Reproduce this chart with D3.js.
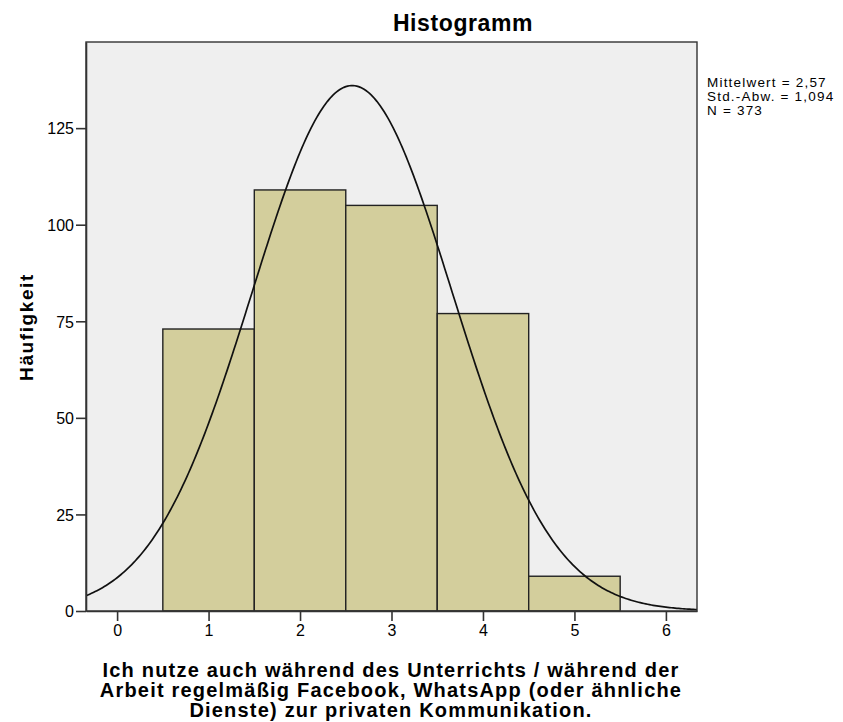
<!DOCTYPE html>
<html>
<head>
<meta charset="utf-8">
<script src="https://cdn.jsdelivr.net/npm/d3@7"></script>
<style>
  body { margin: 0; background: #fff; }
  svg text { font-family: Arial, "Liberation Sans", sans-serif; fill: #000; }
</style>
</head>
<body>
<div class="chartContainer"></div>
<script>
const categories = [1, 2, 3, 4, 5];
const counts = [73, 109, 105, 77, 9];
const xTicks = [0, 1, 2, 3, 4, 5, 6];
const yTicks = [0, 25, 50, 75, 100, 125];
const statsLines = ["Mittelwert = 2,57", "Std.-Abw. = 1,094", "N = 373"];
const mean = 2.57;
const sd = 1.094;
const n = 373;
const xTitle = [
  "Ich nutze auch während des Unterrichts / während der",
  "Arbeit regelmäßig Facebook, WhatsApp (oder ähnliche",
  "Dienste) zur privaten Kommunikation."
];

const w = 843;
const h = 722;
const plotL = 86, plotR = 697, plotT = 42, plotB = 611;

const svg = d3.select(".chartContainer").append("svg")
  .attr("width", w).attr("height", h);

const xScale = d3.scaleLinear().domain([-0.34, 6.34]).range([plotL, plotR]);
const yScale = d3.scaleLinear().domain([0, 147.3]).range([plotB, plotT]);

svg.append("rect")
  .attr("x", plotL).attr("y", plotT)
  .attr("width", plotR - plotL).attr("height", plotB - plotT)
  .attr("fill", "#efefef");

svg.append("defs").append("clipPath").attr("id", "plot")
  .append("rect").attr("x", plotL).attr("y", plotT)
  .attr("width", plotR - plotL).attr("height", plotB - plotT);

svg.selectAll("rect.bar")
  .data(categories)
  .enter()
  .append("rect")
  .attr("class", "bar")
  .attr("x", (d) => xScale(d - 0.5))
  .attr("y", (d, i) => yScale(counts[i]))
  .attr("width", (d) => xScale(d + 0.5) - xScale(d - 0.5))
  .attr("height", (d, i) => plotB - yScale(counts[i]))
  .attr("fill", "#d3ce9c")
  .attr("stroke", "#222")
  .attr("stroke-width", 1.4);

// normal curve from the stated mean / sd / N
const pts = d3.range(-0.34, 6.345, 0.02).map((x) => {
  const z = (x - mean) / sd;
  return [x, (n / (sd * Math.sqrt(2 * Math.PI))) * Math.exp(-0.5 * z * z)];
});
svg.append("path")
  .datum(pts)
  .attr("clip-path", "url(#plot)")
  .attr("fill", "none")
  .attr("stroke", "#111")
  .attr("stroke-width", 1.7)
  .attr("d", d3.line().x((d) => xScale(d[0])).y((d) => yScale(d[1])));

svg.append("rect")
  .attr("x", plotL).attr("y", plotT)
  .attr("width", plotR - plotL).attr("height", plotB - plotT)
  .attr("fill", "none").attr("stroke", "#333").attr("stroke-width", 1.4);

const xAxis = d3.axisBottom(xScale).tickValues(xTicks).tickFormat(d3.format("d"))
  .tickSize(10).tickSizeOuter(0).tickPadding(4);
const yAxis = d3.axisLeft(yScale).tickValues(yTicks).tickFormat(d3.format("d"))
  .tickSize(10).tickSizeOuter(0).tickPadding(2);

const gx = svg.append("g")
  .attr("id", "x-axis")
  .attr("transform", "translate(0," + plotB + ")")
  .call(xAxis);
const gy = svg.append("g")
  .attr("id", "y-axis")
  .attr("transform", "translate(" + plotL + ",0)")
  .call(yAxis);
[gx, gy].forEach((g) => {
  g.select(".domain").attr("stroke", "#333").attr("stroke-width", 1.6);
  g.selectAll(".tick line").attr("stroke", "#333").attr("stroke-width", 1.6);
  g.selectAll(".tick text").attr("font-size", 16).attr("fill", "#222")
    .style("font-family", "Arial, 'Liberation Sans', sans-serif");
});
gy.selectAll(".tick text").attr("dy", "0.36em");

svg.append("text")
  .attr("x", 463).attr("y", 31)
  .attr("text-anchor", "middle")
  .attr("font-size", 23).attr("font-weight", "bold")
  .attr("letter-spacing", 0.6)
  .text("Histogramm");

svg.append("text")
  .attr("transform", "translate(33,327) rotate(-90)")
  .attr("text-anchor", "middle")
  .attr("font-size", 19).attr("font-weight", "bold")
  .attr("letter-spacing", 1.6)
  .text("Häufigkeit");

svg.append("g").selectAll("text")
  .data(statsLines).enter().append("text")
  .attr("x", 707).attr("y", (d, i) => 87 + i * 14)
  .attr("font-size", 13.5)
  .attr("letter-spacing", 1.2)
  .attr("fill", "#111")
  .text((d) => d);

svg.append("g").selectAll("text")
  .data(xTitle).enter().append("text")
  .attr("x", 391).attr("y", (d, i) => 677 + i * 20)
  .attr("text-anchor", "middle")
  .attr("font-size", 20).attr("font-weight", "bold")
  .attr("letter-spacing", 1.2)
  .text((d) => d);
</script>
</body>
</html>
